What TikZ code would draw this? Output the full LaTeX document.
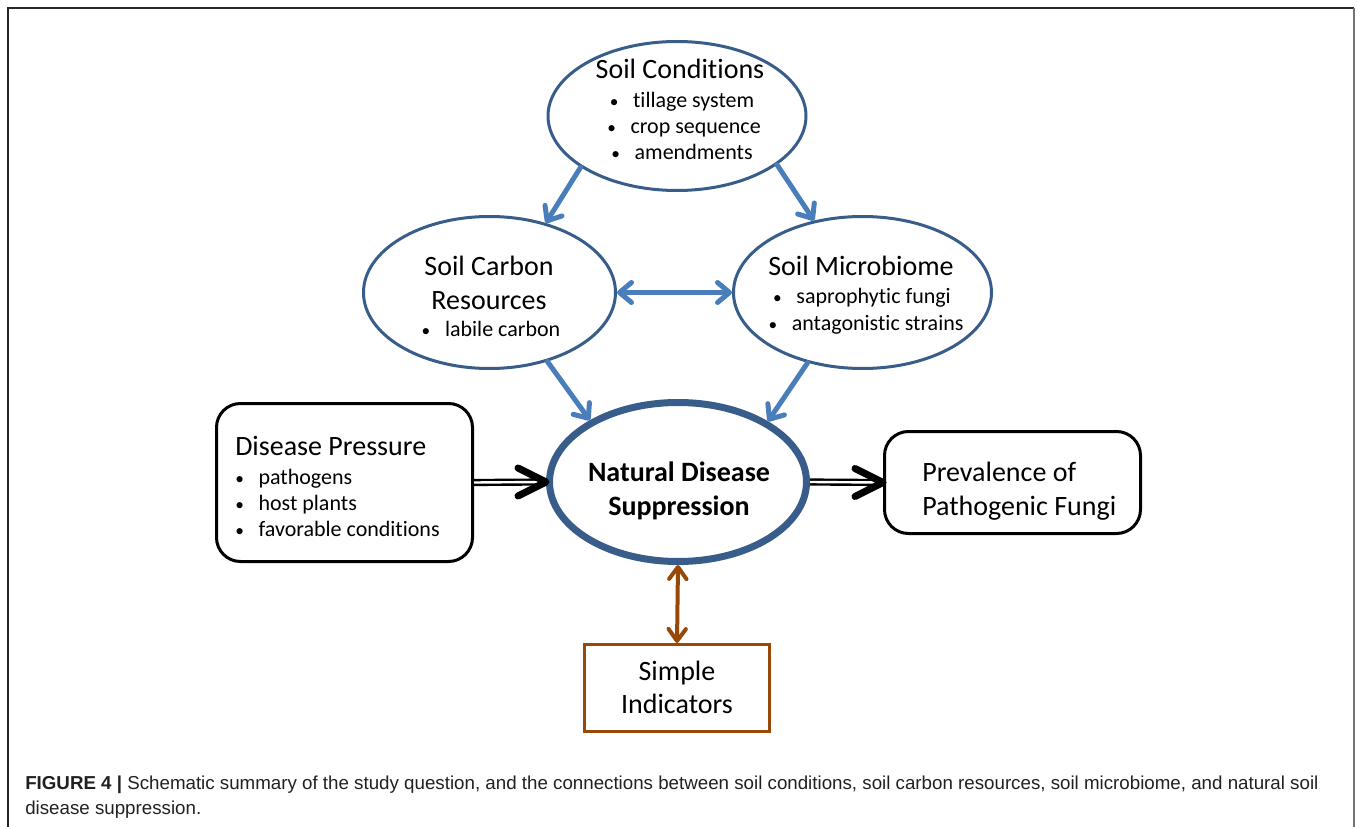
\documentclass[tikz,border=0pt]{standalone}
\usepackage{fontspec}
\setmainfont{Carlito}[Ligatures=NoCommon]
\newfontfamily\capfont{Liberation Sans}
\usetikzlibrary{shapes.geometric,arrows.meta}
\definecolor{ellblue}{HTML}{385D8A}
\definecolor{arrblue}{HTML}{4A7EBB}
\definecolor{brownc}{HTML}{984807}
\definecolor{captxt}{HTML}{231F20}
\newcommand{\bl}{{\fontsize{13}{13}\selectfont\textbullet}\hspace{11pt}}
\begin{document}
\begin{tikzpicture}[x=0.75pt,y=-0.75pt,
  ell/.style={ellipse, draw=ellblue, line width=2.25pt, inner sep=0pt},
  rbox/.style={rectangle, rounded corners=18pt, draw=black, line width=2.25pt, inner sep=0pt},
  ttl/.style={font=\fontsize{21}{25}\selectfont, inner sep=0pt, anchor=base},
  bul/.style={font=\fontsize{16.5}{20}\selectfont, inner sep=0pt, anchor=base},
  barr/.style={draw=arrblue, line width=3.75pt, line cap=round,
    -{Straight Barb[length=9pt,width=15pt,line cap=round,line join=round]}},
  bdarr/.style={draw=arrblue, line width=3.75pt, line cap=round,
    {Straight Barb[length=9pt,width=15pt,line cap=round,line join=round]}-{Straight Barb[length=9pt,width=15pt,line cap=round,line join=round]}},
  brarr/.style={draw=brownc, line width=3pt, line cap=round,
    {Straight Barb[length=9pt,width=13pt,line cap=round,line join=round]}-{Straight Barb[length=9pt,width=13pt,line cap=round,line join=round]}},
  dbl/.style={draw=black, line width=1.8pt, double=white, double distance=1.8pt},
  chev/.style={draw=black, line width=5.25pt, line cap=round, line join=round},
  captext/.style={font=\capfont\fontsize{14.05}{16}\selectfont, text=captxt, inner sep=0pt, anchor=base west}
]
\useasboundingbox (0,0) rectangle (1357,827);
% frame
\draw[line width=1.5pt, draw=black!85] (8,827) -- (8,8) -- (1354,8);
\draw[line width=1.5pt, draw=black!55] (1354,8) -- (1354,827);

% shapes
\node[ell, minimum width=193.5pt, minimum height=111.75pt] (sc) at (677,116) {};
\node[ell, minimum width=189pt, minimum height=114pt] (cr) at (489.5,292.5) {};
\node[ell, minimum width=193.5pt, minimum height=114pt] (mb) at (862.5,292.5) {};
\node[ellipse, draw=ellblue, line width=5.25pt, inner sep=0pt, minimum width=192.75pt, minimum height=119.25pt] (nds) at (678,482) {};
\node[rbox, minimum width=192pt, minimum height=118.5pt] (dp) at (344.5,482.5) {};
\node[rbox, minimum width=192pt, minimum height=76.5pt] (pf) at (1012.5,482.5) {};
\node[rectangle, draw=brownc, line width=2.25pt, inner sep=0pt, minimum width=138.75pt, minimum height=65.25pt] (si) at (677,688) {};

% texts
\node[ttl] (sct) at (680,79) {Soil Conditions};
\node[bul] (sc1) at (682,108) {\bl tillage system};
\node[bul] (sc2) at (684,134) {\bl crop sequence};
\node[bul] (sc3) at (682,160) {\bl amendments};

\node[ttl] (crt1) at (489,276) {Soil Carbon};
\node[ttl] (crt2) at (489,310) {Resources};
\node[bul] (cr1) at (491,337) {\bl labile carbon};

\node[ttl] (mbt) at (861,276) {Soil Microbiome};
\node[bul] (mb1) at (862,304) {\bl saprophytic fungi};
\node[bul] (mb2) at (866,330) {\bl antagonistic strains};

\node[ttl, font=\fontsize{21}{25}\selectfont\bfseries] (ndst1) at (679,481) {Natural Disease};
\node[ttl, font=\fontsize{21}{25}\selectfont\bfseries] (ndst2) at (679,515) {Suppression};

\node[ttl, anchor=base west] (dpt) at (235,455) {Disease Pressure};
\node[bul, anchor=base west] (dp1) at (235,484) {\bl pathogens};
\node[bul, anchor=base west] (dp2) at (235,510) {\bl host plants};
\node[bul, anchor=base west] (dp3) at (235,536) {\bl favorable conditions};

\node[ttl, anchor=base west] (pft1) at (922,481) {Prevalence of};
\node[ttl, anchor=base west] (pft2) at (922,515) {Pathogenic Fungi};

\node[ttl] (sit1) at (677,680) {Simple};
\node[ttl] (sit2) at (677,713) {Indicators};

% connectors
\draw[barr] (sc.208) -- (cr.51);
\draw[barr] (sc.334) -- (mb.124);
\draw[bdarr] (cr.east) -- (mb.west);
\draw[barr] (cr.310) -- (nds.145);
\draw[barr] (mb.232) -- (nds.34);
\draw[brarr] (nds.south) -- (si.north);

\draw[dbl] (dp.east) -- ([xshift=-3pt]nds.west);
\draw[chev] ([xshift=-21pt,yshift=10.5pt]nds.west) -- (nds.west) -- ([xshift=-21pt,yshift=-10.5pt]nds.west);
\draw[dbl] (nds.east) -- ([xshift=-3pt]pf.west);
\draw[chev] ([xshift=-21pt,yshift=10.5pt]pf.west) -- (pf.west) -- ([xshift=-21pt,yshift=-10.5pt]pf.west);

% caption
\node[captext] (cap1) at (25,789) {{\bfseries FIGURE 4 |} Schematic summary of the study question, and the connections between soil conditions, soil carbon resources, soil microbiome, and natural soil};
\node[captext] (cap2) at (25,814) {disease suppression.};
\end{tikzpicture}
\end{document}
